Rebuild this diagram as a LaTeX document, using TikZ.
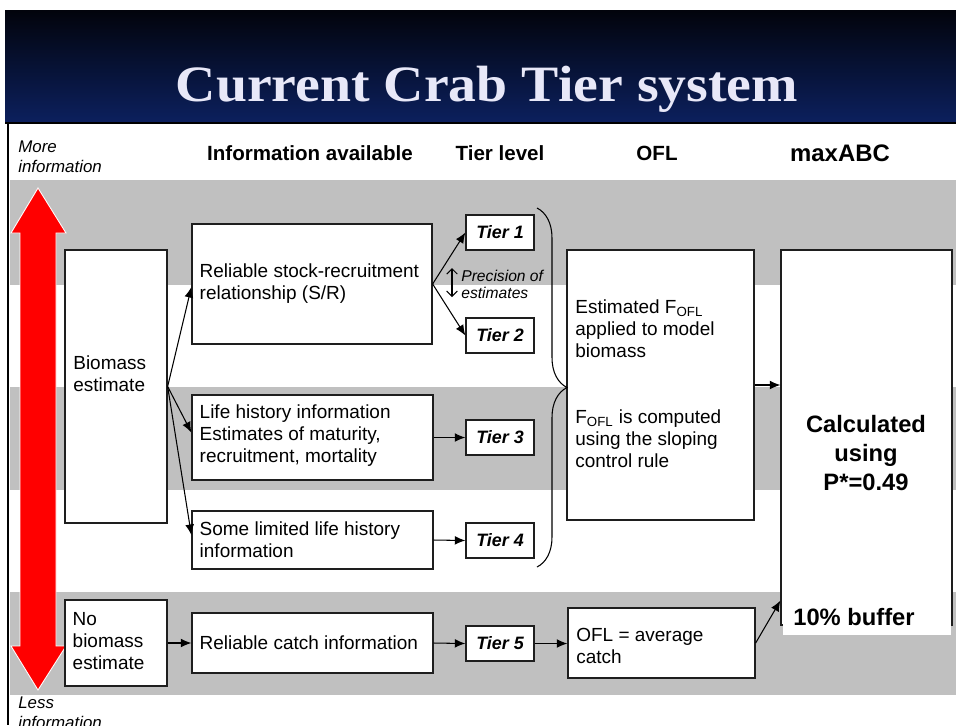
\documentclass[tikz,border=0pt]{standalone}
\usepackage{fontspec}
\setmainfont{Liberation Sans}
\newfontfamily\titleserif{Liberation Serif}
\usetikzlibrary{arrows.meta,decorations.pathreplacing,calc}

\definecolor{bandgray}{RGB}{192,192,192}
\definecolor{navytop}{RGB}{2,4,12}
\definecolor{navybot}{RGB}{12,32,94}
\definecolor{titletext}{RGB}{232,232,248}
\definecolor{edge}{RGB}{30,30,30}

\newcommand\bodysize{\fontsize{10.8}{12.5}\selectfont}

\begin{document}
\begin{tikzpicture}[x=0.02cm,y=-0.02cm,
  box/.style={draw=edge, line width=0.75pt, fill=white, inner sep=0pt},
  tierbox/.style={box, minimum width=1.36cm, minimum height=0.7cm,
    font=\fontsize{10.2}{12}\selectfont\bfseries\itshape},
  txt/.style={inner sep=0pt, align=left, anchor=west, font=\bodysize},
  colhead/.style={inner sep=0pt, font=\fontsize{11.7}{14}\selectfont\bfseries},
  side/.style={inner sep=0pt, align=left, anchor=west,
    font=\fontsize{9.6}{11.3}\selectfont\itshape},
  link/.style={-{Latex[length=6pt,width=5pt]}, line width=0.6pt, draw=black},
  bold big/.style={inner sep=0pt, font=\fontsize{13.5}{16.4}\selectfont\bfseries}]

\useasboundingbox (0,0) rectangle (956,725);
\fill[white] (0,0) rectangle (956,725);

% title band
\shade[top color=navytop, bottom color=navybot] (5,10) rectangle (956,123);
\draw[black, line width=0.8pt] (5,123) -- (956,123);
\node[font=\titleserif\bfseries\fontsize{29}{34}\selectfont, text=titletext,
  anchor=base, inner sep=0pt] (title) at (487,101) {\scalebox{1.095}[1]{Current Crab Tier system}};

% grey bands
\fill[bandgray] (10,180) rectangle (956,285);
\fill[bandgray] (10,387) rectangle (956,490);
\fill[bandgray] (10,592) rectangle (956,695);

% left frame line
\draw[black, line width=1.4pt] (8,123) -- (8,725);

% column headings
\node[side] (more) at (18,157) {More\\information};
\node[side] (less) at (18,713) {Less\\information};
\node[colhead] (hinfo) at (310,153) {Information available};
\node[colhead] (htier) at (500,153) {Tier level};
\node[colhead] (hofl) at (657,153) {OFL};
\node[inner sep=0pt, font=\fontsize{13.6}{16}\selectfont\bfseries] (habc) at (840,153) {maxABC};

% information gradient arrow
\draw[white, line width=0.5pt, fill=red]
  (38,188) -- (66,233) -- (56,233) -- (56,646) -- (66,646) -- (38,690)
  -- (11,646) -- (20,646) -- (20,233) -- (11,233) -- cycle;

% boxes
\node[box, minimum width=2.04cm, minimum height=5.46cm] (bio) at (116,386.5) {};
\node[box, minimum width=2.04cm, minimum height=1.72cm] (nobio) at (116,643) {};
\node[box, minimum width=4.8cm, minimum height=2.4cm] (sr) at (312,284) {};
\node[box, minimum width=4.82cm, minimum height=1.7cm] (life) at (312.5,437.5) {};
\node[box, minimum width=4.82cm, minimum height=1.16cm] (lim) at (312.5,540) {};
\node[box, minimum width=4.82cm, minimum height=1.2cm] (catch) at (312.5,643) {};

\node[tierbox] (t1) at (500,232.5) {Tier 1};
\node[tierbox] (t2) at (500,335.5) {Tier 2};
\node[tierbox] (t3) at (500,437.5) {Tier 3};
\node[tierbox] (t4) at (500,540.5) {Tier 4};
\node[tierbox] (t5) at (500,643.5) {Tier 5};

\node[box, minimum width=3.74cm, minimum height=5.4cm] (ofl) at (660.5,385) {};
\node[box, minimum width=3.74cm, minimum height=1.4cm] (avg) at (661.5,643) {};
\node[box, minimum width=3.42cm, minimum height=7.5cm] (abc) at (866.5,437.5) {};
\fill[white] (783,592) rectangle (951,635);

% box texts
\node[txt] (biotext) at (73,374) {Biomass\\estimate};
\node[txt] (nobiotext) at ($(nobio.west)+(8,-2)$) {No\\biomass\\estimate};
\node[txt] (srtext) at ($(sr.west)+(8,0)$) {Reliable stock-recruitment\\relationship (S/R)};
\node[txt] (lifetext) at ($(life.west)+(8,-2)$) {Life history information\\Estimates of maturity,\\recruitment, mortality};
\node[txt] (limtext) at ($(lim.west)+(8,0)$) {Some limited life history\\information};
\node[txt] (catchtext) at ($(catch.west)+(8,0)$) {Reliable catch information};
\node[txt] (ofltext) at (575,384) {Estimated F\textsubscript{OFL}\\applied to model\\biomass\\[0.88cm]F\textsubscript{OFL} is computed\\using the sloping\\control rule};
\node[txt] (avgtext) at (576,646) {OFL = average\\catch};
\node[bold big, align=center] (calc) at (866,453) {Calculated\\using\\P*=0.49};
\node[bold big, anchor=west] (buffer) at (793,617) {10\% buffer};

% precision note
\coordinate (pa) at (452,268);
\coordinate (pb) at (452,297);
\draw[{Straight Barb[length=3pt,width=6pt]}-{Straight Barb[length=3pt,width=6pt]}, line width=0.6pt] (pa) -- (pb);
\node[inner sep=0pt, align=left, anchor=west, font=\fontsize{8.9}{9.6}\selectfont\itshape] (prec) at (461,284.5) {Precision of\\estimates};

% connectors
\draw[link] (bio.east) -- ($(sr.west)+(0,3)$);
\draw[link] (bio.east) -- ($(life.west)+(0,-5)$);
\draw[link] (bio.east) -- ($(lim.west)+(0,-5)$);
\draw[link] (sr.east) -- (t1.west);
\draw[link] (sr.east) -- (t2.west);
\draw[link] (life.east) -- (t3.west);
\draw[link] (lim.east) -- (t4.west);
\draw[link] (nobio.east) -- (catch.west);
\draw[link] (catch.east) -- (t5.west);
\draw[link] (t5.east) -- (avg.west |- t5.east);
\draw[link] (ofl.east) -- (abc.west |- ofl.east);
\coordinate (abcin) at ($(abc.south west)+(0,-25)$);
\draw[link] (avg.east) -- (abcin);

% brace grouping tiers 1-4
\coordinate (bt) at (537,208);
\coordinate (bb) at (537,567);
\draw[decorate, decoration={brace, amplitude=0.6cm}, line width=0.6pt] (bt) -- (bb);

\end{tikzpicture}
\end{document}
